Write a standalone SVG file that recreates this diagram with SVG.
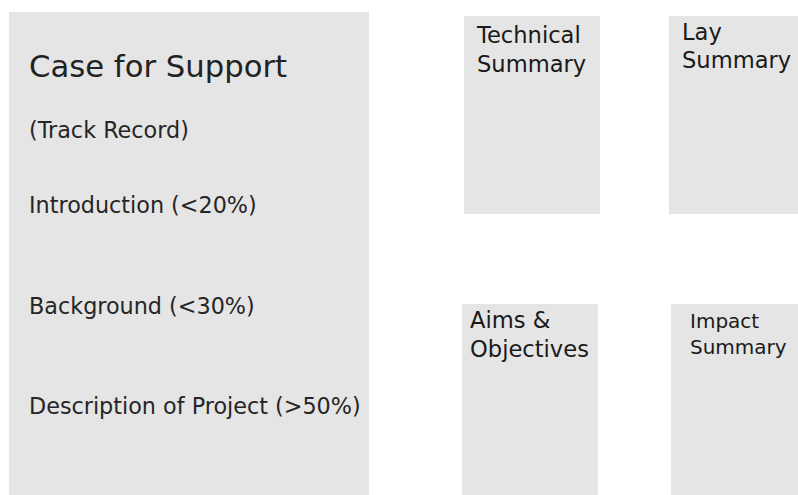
<svg xmlns="http://www.w3.org/2000/svg" width="798" height="495" viewBox="0 0 798 495">
<style>
.box{fill:#e5e5e5;}
text{font-family:"DejaVu Sans",sans-serif;fill:#1a1a1a;}
.t{font-size:30.7px;fill:#222222;}
.b{font-size:22.3px;fill:#262626;}
.s{font-size:22.6px;}
.i{font-size:20px;}
</style>
<rect width="798" height="495" fill="#ffffff"/>
<g id="case-for-support">
<rect class="box" x="9" y="12" width="360" height="483"/>
<text class="t" x="29" y="77">Case for Support</text>
<text class="b" x="29" y="138">(Track Record)</text>
<text class="b" x="29" y="213">Introduction (&lt;20%)</text>
<text class="b" x="29" y="314">Background (&lt;30%)</text>
<text class="b" x="29" y="414">Description of Project (&gt;50%)</text>
</g>
<g id="technical-summary">
<rect class="box" x="464" y="16" width="136" height="198"/>
<text class="s" x="477" y="43">Technical</text>
<text class="s" x="477" y="72">Summary</text>
</g>
<g id="lay-summary">
<rect class="box" x="669" y="16" width="129" height="198"/>
<text class="s" x="682" y="40">Lay</text>
<text class="s" x="682" y="68">Summary</text>
</g>
<g id="aims-objectives">
<rect class="box" x="462" y="304" width="136" height="191"/>
<text class="s" x="470" y="328">Aims &amp;</text>
<text class="s" x="470" y="357">Objectives</text>
</g>
<g id="impact-summary">
<rect class="box" x="671" y="304" width="127" height="191"/>
<text class="i" x="690" y="328">Impact</text>
<text class="i" x="690" y="354">Summary</text>
</g>
<g id="connectors"/>
</svg>
